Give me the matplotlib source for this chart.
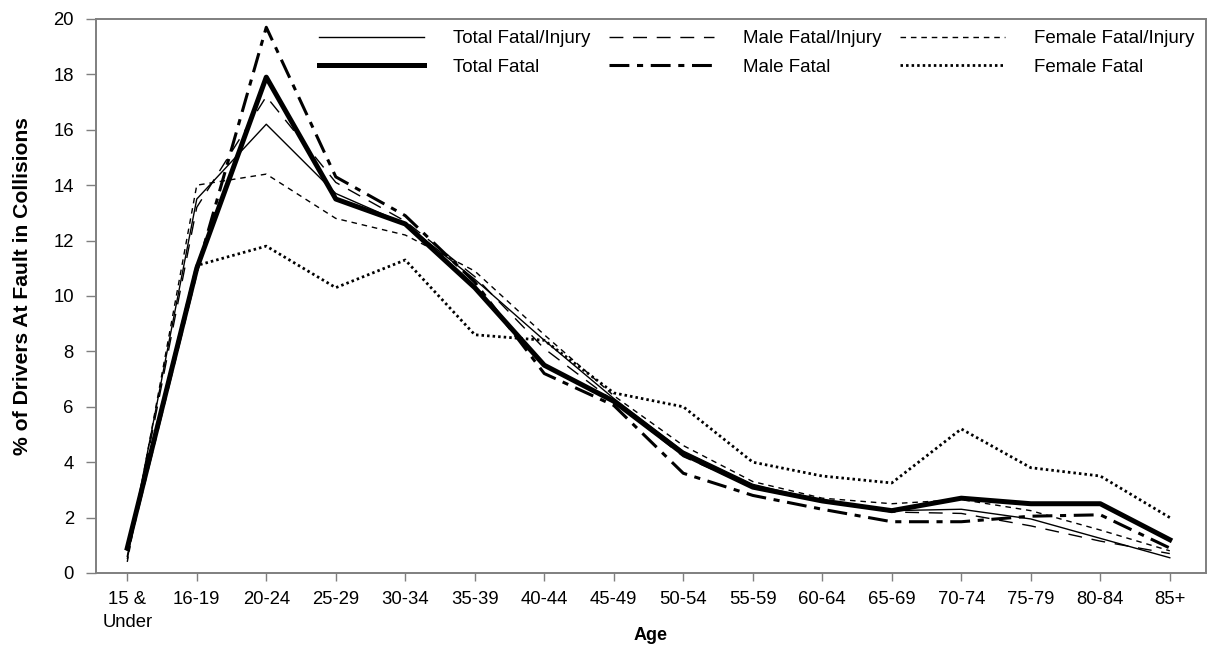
import matplotlib
matplotlib.use("Agg")
import matplotlib.pyplot as plt

plt.rcParams['font.family'] = ['Liberation Sans', 'DejaVu Sans']

ages = ["15 &\nUnder", "16-19", "20-24", "25-29", "30-34", "35-39", "40-44",
        "45-49", "50-54", "55-59", "60-64", "65-69", "70-74", "75-79",
        "80-84", "85+"]

total_fatal_injury = [0.6, 13.5, 16.2, 13.7, 12.6, 10.6, 8.4, 6.3, 4.4, 3.2,
                      2.6, 2.25, 2.3, 1.95, 1.25, 0.55]
total_fatal = [0.9, 11.0, 17.9, 13.5, 12.6, 10.3, 7.5, 6.2, 4.3, 3.1,
               2.6, 2.25, 2.7, 2.5, 2.5, 1.2]
male_fatal_injury = [0.5, 13.2, 17.2, 14.1, 12.7, 10.7, 8.1, 6.2, 4.2, 3.1,
                     2.6, 2.2, 2.15, 1.7, 1.15, 0.7]
male_fatal = [0.8, 10.9, 19.7, 14.3, 12.9, 10.5, 7.2, 6.05, 3.6, 2.8,
              2.3, 1.85, 1.85, 2.05, 2.1, 0.9]
female_fatal_injury = [0.4, 14.0, 14.4, 12.8, 12.2, 10.9, 8.6, 6.4, 4.6, 3.3,
                       2.7, 2.5, 2.65, 2.25, 1.55, 0.8]
female_fatal = [0.9, 11.1, 11.8, 10.3, 11.3, 8.6, 8.4, 6.5, 6.0, 4.0,
                3.5, 3.25, 5.2, 3.8, 3.5, 2.0]

x = range(len(ages))
spine_grey = "#7f7f7f"

fig = plt.figure(figsize=(12.12, 6.5), dpi=100)
ax = fig.add_axes([0.0792, 0.1185, 0.9158, 0.8523])

ax.plot(x, total_fatal_injury, color="black", lw=1.0, label="Total Fatal/Injury")
ax.plot(x, total_fatal, color="black", lw=3.6, label="Total Fatal")
ax.plot(x, male_fatal_injury, color="black", lw=1.0, dashes=(10, 7),
        label="Male Fatal/Injury")
ax.plot(x, male_fatal, color="black", lw=2.2, dashes=(6.5, 2.5, 2, 2.5),
        label="Male Fatal")
ax.plot(x, female_fatal_injury, color="black", lw=1.0, dashes=(4, 3.5),
        label="Female Fatal/Injury")
ax.plot(x, female_fatal, color="black", lw=2.0, dashes=(0.9, 1.1),
        label="Female Fatal")

ax.set_xlim(-0.45, 15.52)
ax.set_ylim(0, 20)
ax.set_xticks(list(x))
ax.set_xticklabels(ages, fontsize=13.3, linespacing=1.45)
ax.set_yticks(range(0, 21, 2))
ax.tick_params(axis="y", labelsize=13.3, length=7, width=1, color=spine_grey, pad=9)
ax.tick_params(axis="x", labelsize=13.3, length=6, width=1, color=spine_grey, pad=7)

for side in ax.spines.values():
    side.set_color(spine_grey)
    side.set_linewidth(1.4)

ax.set_xlabel("Age", fontsize=13, fontweight="bold", labelpad=-3)
ax.set_ylabel("% of Drivers At Fault in Collisions", fontsize=15.2,
              fontweight="bold")
ax.yaxis.set_label_coords(-0.0577, 0.518)

ax.legend(ncol=3, loc="upper right", bbox_to_anchor=(1.0, 1.0), frameon=False,
          fontsize=13.5, handlelength=5.6, handletextpad=1.55, columnspacing=1.0,
          labelspacing=0.6, borderaxespad=0.2)

fig.savefig("out.png", dpi=100)
